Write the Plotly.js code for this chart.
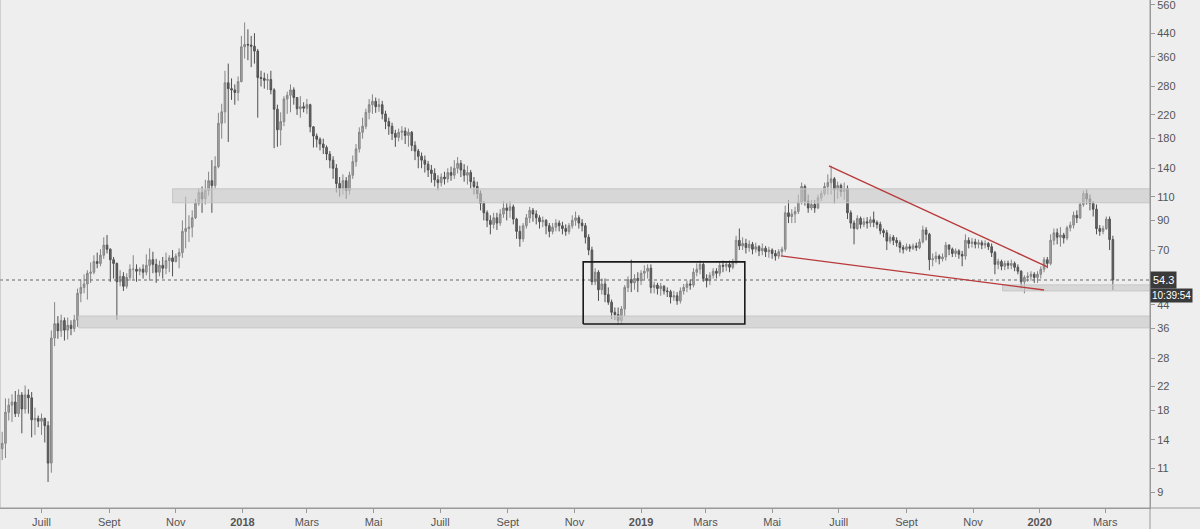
<!DOCTYPE html>
<html>
<head>
<meta charset="utf-8">
<script src="https://cdn.plot.ly/plotly-3.0.1.min.js"></script>
<style>
  html, body { margin: 0; padding: 0; background: #eeeeee; }
  #chart { width: 1200px; height: 529px; }
</style>
</head>
<body>
<div id="chart"></div>
<script>
// ---- Data (3-day candles) ----
const startDate = '2017-05-26';
const periodDays = 3;

const opens = [
  13.0,13.6,17.7,18.8,19.3,17.5,20.5,18.2,20.5,20.0,16.6,16.8,16.4,16.8,15.8,11.5,33.2,37.5,35.3,38.5,
  35.5,37.0,36.0,38.7,48.5,51.0,52.5,57.5,58,63.5,62.5,67,73,70.5,64.5,62.5,53.5,56,51.5,55.5,
  59.5,59.5,58.5,59.5,58,61.5,64.5,62,58,61.5,60,64,65.5,63.5,66.5,68.5,82,84,85,92,
  104,114,108,116,126,121,142,205,226,289,275,272,266,292,392,400,398,394,378,302,
  300,295,297,272,231,194,208,252,260,272,255,232,236,233,240,199,184,179,172,167,
  158,150,140,123,118,126,116,132,148,165,190,200,225,240,247,236,240,222,208,200,
  188,182,190,192,185,190,170,162,155,150,145,138,134,127,124,130,128,135,132,140,
  146,138,132,135,125,120,113,104,96,90,87,92,88,95,100,98,101,91,82,77,
  86,92,98,95,92,89,90,86,82,85,88,86,84,82,86,90,92,88,86,78,
  70,53.5,58,50,52.5,48,45,41.3,40.5,38.5,42.5,51,54.5,53,55,54,57.5,58.5,60,51,
  52,50.5,51.5,49.5,49.2,47,47.5,45.5,49.5,51,52.5,52,58,59.5,62,55,54,56.5,58.5,57.5,
  61.5,61,62,60.5,63,76,72.5,74,71.5,73.5,70.5,72,69.5,71,69,70,68,66.5,69,70.5,
  96,93,95,97,105,120,106,100,103,100,109,113,120,124,128,117,121,115,118,96,
  88,84,91.5,87,89,88,90.5,88.5,87,82.5,81,75.5,78,76,74.5,71.5,70.5,72,71,72.5,
  71.5,75,83,80,64.5,65,66.5,65,66,73,70.5,68,69.5,67.5,66.5,76,74,75,73.5,74.5,
  73,74,72,68.5,62,63.5,61,62.5,61.5,62.5,60.5,58.5,53.5,55.5,56,57,55.5,57,59.5,64.5,
  62.5,76,81,78,79.5,77.5,84.5,86.5,94,92,103,113,108,104,99,84,82,84,91,76.5
];
const highs = [
  15.0,19.9,19.9,20.6,21.2,21.5,21.0,22.2,21.5,21.0,18.4,17.2,17.5,16.9,16.4,35.4,45,40,40.5,39.5,
  39.5,38.6,40.4,50.5,54.5,57,59,63,67,68.5,70.5,78,79.5,71,66,63,59,58,57.5,62,
  67,62,60.5,62,67.5,71,69,65,64,66,68.5,67,70,68,71,90,110,94,98,108,
  118,120,127,136,150,155,224,242,320,340,300,285,305,430,482,455,430,440,385,320,
  315,312,320,276,240,225,258,268,285,278,256,258,245,252,242,200,188,182,180,170,
  162,155,145,130,133,130,136,156,172,198,215,232,252,262,255,253,248,228,215,206,
  194,196,200,198,196,192,176,165,160,156,149,144,140,132,134,136,140,142,150,154,
  150,145,143,138,130,125,116,106,98,94,96,96,99,106,104,106,103,92,86,88,
  95,101,100,98,94,93,91,88,88,91,90,89,87,88,94,97,94,91,88,80,
  72,60,59,55,55,51,46,43,43,43.5,52,56,64.5,57,58,59,61.5,62,62,53.5,
  53,53,52,51,50,49.5,49,51,52.5,54,54.5,60,62.5,64,63,57,58,60,60,63,
  64,63.5,64,65,79,84,78,77,76,75,74.5,73,74,72.5,72,71,70,70.5,72,102,
  107,99,101,112,124,122,112,107,107,112,116,124,133,143,130,125,123,124,121,98,
  90,94,93,92,92.5,93,97,90,89,84,83,80,79.5,78,76,73,74,73.5,74,74.5,
  77,86,85,81,68,69,67.5,68,75,73.5,71.5,71,70.5,69.5,80,78,77.5,77,76.5,76,
  76,75,74,69.5,65,64.5,64,64,64.5,63.5,62,59,56.5,58,58.5,58,58.5,61,66,66,
  80,84,84,85,81,86,89,97,98,105,116,117,112,106,103,86.5,86,93,93,79
];
const lows = [
  11.8,12.0,16.5,16.3,17.0,17.0,14.8,17.5,17.5,14.3,14.6,15.6,14.6,13.7,9.8,10.6,31,33,33.5,32.5,
  32.8,34.0,35.0,36.5,45,48.5,46,53,57,60,61,65,68,53.5,55,38.8,51.5,49.5,50.5,54,
  54.5,53.5,56.5,55,56.5,54,57.5,53,56,55,57,58,56,63,60,65.5,71,75,78,91,
  102,96,103,111,96,118,140,180,205,175,250,240,248,290,355,350,330,340,215,280,
  275,272,262,166,168,170,200,222,225,240,220,215,225,222,190,167,167,163,158,150,
  140,128,114,110,112,108,112,128,142,160,180,195,212,222,224,226,212,195,186,178,
  168,176,178,172,168,162,150,140,140,135,130,124,120,116,120,122,124,126,128,134,
  130,125,122,118,112,108,98,90,85,80,84,83,86,92,90,92,87,77,72,75,
  84,88,89,87,84,85,80,78,80,82,82,80,79,80,84,86,84,82,74,67,
  52,52,45.5,48,45,44,39,38.7,37.1,37.2,40,49,49,50,49,52,54.5,55,48.5,48.5,
  48,47.5,48,47,44.5,45.5,44,44.5,48,49,50,51,56,57,53.5,51,52,55,55,56,
  58,58.5,58,59.5,62,70,70,68,69,67.5,68.5,66.5,67,66,65.5,65,64,65,66.5,69,
  88,88,88,95,103,102,96,98,96,99,106,111,112,112,104,108,110,107,91,84,
  73.5,83,84,85,84,85,85,84,80,78,70,74,73,72,68.5,68,69.5,69,70,69.5,
  70.5,74,76,59,61,63,62,63.5,64,67,66,66,65,61,64.5,71,71.5,71,71,70.5,
  71,70,66,57,59.5,59,59,59.5,59.5,58.5,57,50.5,48.5,53.5,54,53,53,55,58,60,
  61.5,73,73.5,72,74,76,82,84,88,91,101,103,98,93,80,79,80,83,70,49.9
];
const closes = [
  13.6,17.7,18.8,19.3,17.5,20.5,18.2,20.5,20.0,16.6,16.8,16.4,16.8,15.8,11.5,33.2,37.5,35.3,38.5,35.5,
  37.0,36.0,38.7,48.5,51.0,52.5,57.5,58,63.5,62.5,67,73,70.5,64.5,62.5,53.5,56,51.5,55.5,59.5,
  59.5,58.5,59.5,58,61.5,64.5,62,58,61.5,60,64,65.5,63.5,66.5,68.5,82,84,85,92,104,
  114,108,116,126,121,142,205,226,289,275,272,266,292,392,400,398,394,378,302,300,
  295,297,272,231,194,208,252,260,272,255,232,236,233,240,199,184,179,172,167,158,
  150,140,123,118,126,116,132,148,165,190,200,225,240,247,236,240,222,208,200,188,
  182,190,192,185,190,170,162,155,150,145,138,134,127,124,130,128,135,132,140,146,
  138,132,135,125,120,113,104,96,90,87,92,88,95,100,98,101,91,82,77,86,
  92,98,95,92,89,90,86,82,85,88,86,84,82,86,90,92,88,86,78,70,
  53.5,58,50,52.5,48,45,41.3,40.5,38.5,42.5,51,54.5,53,55,54,57.5,58.5,60,51,52,
  50.5,51.5,49.5,49.2,47,47.5,45.5,49.5,51,52.5,52,58,59.5,62,55,54,56.5,58.5,57.5,61.5,
  61,62,60.5,63,76,72.5,74,71.5,73.5,70.5,72,69.5,71,69,70,68,66.5,69,70.5,96,
  93,95,97,105,120,106,100,103,100,109,113,120,124,128,117,121,115,118,96,88,
  84,91.5,87,89,88,90.5,88.5,87,82.5,81,75.5,78,76,74.5,71.5,70.5,72,71,72.5,71.5,
  75,83,80,64.5,65,66.5,65,66,73,70.5,68,69.5,67.5,66.5,76,74,75,73.5,74.5,73,
  74,72,68.5,62,63.5,61,62.5,61.5,62.5,60.5,58.5,53.5,55.5,56,57,55.5,57,59.5,64.5,62.5,
  76,81,78,79.5,77.5,84.5,86.5,94,92,103,113,108,104,99,84,82,84,91,76.5,54.3
];

// Horizontal zones (price ranges) and their start dates
const zoneUpper = { start: '2017-10-29', lo: 104.5, hi: 117.6 };
const zoneLower = { start: '2017-08-04', lo: 36.2, hi: 40.0 };
const zoneSmall = { start: '2019-11-28', lo: 49.5, hi: 52.1 };
const boxDates = ['2018-11-09', '2019-04-06'];
const boxPrices = [37.4, 63.3];
const wedgeUpper = { x: ['2019-06-22', '2020-01-08'], y: [142.9, 60.7] };
const wedgeLower = { x: ['2019-05-09', '2020-01-05'], y: [66.6, 49.9] };

const xRange = ['2017-05-24', '2020-04-11'];
const xTickVals = ['2017-07-01','2017-09-01','2017-11-01','2018-01-01','2018-03-01','2018-05-01',
  '2018-07-01','2018-09-01','2018-11-01','2019-01-01','2019-03-01','2019-05-01','2019-07-01',
  '2019-09-01','2019-11-01','2020-01-01','2020-03-01'];
const xTickText = ['Juill','Sept','Nov','<b>2018</b>','Mars','Mai','Juill','Sept','Nov','<b>2019</b>',
  'Mars','Mai','Juill','Sept','Nov','<b>2020</b>','Mars'];
const yTickVals = [9,11,14,18,22,28,36,44,70,90,110,140,180,220,280,360,440,560];
const yRange = [7.86, 583];
const timerLabel = '10:39:54';

// ---- Build ----
const t0 = Date.parse(startDate + 'T00:00:00Z');
const dates = closes.map((_, i) => new Date(t0 + i * periodDays * 86400000).toISOString().slice(0, 10));
const lastClose = closes[closes.length - 1];
const endX = '2020-04-20';

function zoneTrace(z) {
  return {
    type: 'scatter', mode: 'lines', hoverinfo: 'skip', showlegend: false,
    x: [z.start, endX, endX, z.start, z.start],
    y: [z.lo, z.lo, z.hi, z.hi, z.lo],
    fill: 'toself', fillcolor: 'rgba(200,200,200,0.6)',
    line: { color: '#c6c6c6', width: 1 }
  };
}

const traces = [
  zoneTrace(zoneUpper), zoneTrace(zoneLower), zoneTrace(zoneSmall),
  {
    type: 'scatter', mode: 'lines', hoverinfo: 'skip', showlegend: false,
    x: [xRange[0], endX], y: [lastClose, lastClose],
    line: { color: '#666666', width: 1, dash: 'dot' }
  },
  {
    type: 'candlestick', x: dates, open: opens, high: highs, low: lows, close: closes,
    showlegend: false, hoverinfo: 'skip',
    increasing: { line: { color: '#858585', width: 1 }, fillcolor: '#a8a8a8' },
    decreasing: { line: { color: '#505050', width: 1 }, fillcolor: '#666666' }
  },
  {
    type: 'scatter', mode: 'lines', hoverinfo: 'skip', showlegend: false,
    x: [boxDates[0], boxDates[1], boxDates[1], boxDates[0], boxDates[0]],
    y: [boxPrices[0], boxPrices[0], boxPrices[1], boxPrices[1], boxPrices[0]],
    line: { color: '#1a1a1a', width: 1.6 }
  },
  {
    type: 'scatter', mode: 'lines', hoverinfo: 'skip', showlegend: false,
    x: wedgeUpper.x, y: wedgeUpper.y, line: { color: '#b83a3a', width: 1.4 }
  },
  {
    type: 'scatter', mode: 'lines', hoverinfo: 'skip', showlegend: false,
    x: wedgeLower.x, y: wedgeLower.y, line: { color: '#b83a3a', width: 1.4 }
  }
];

const plotH = 508;
const layout = {
  width: 1200, height: 529,
  margin: { l: 0, r: 50, t: 0, b: 21, pad: 0 },
  paper_bgcolor: '#eeeeee', plot_bgcolor: '#eeeeee',
  font: { family: 'Liberation Sans, Arial, sans-serif', size: 11, color: '#555555' },
  showlegend: false,
  dragmode: false,
  xaxis: {
    type: 'date', range: xRange, rangeslider: { visible: false },
    tickmode: 'array', tickvals: xTickVals, ticktext: xTickText,
    ticks: 'outside', ticklen: 4, tickcolor: '#9a9a9a', tickwidth: 1,
    showgrid: false, zeroline: false, showline: true, linecolor: '#9a9a9a', linewidth: 1,
    tickfont: { size: 11, color: '#555555' }, fixedrange: true
  },
  yaxis: {
    type: 'log', side: 'right',
    range: [Math.log10(yRange[0]), Math.log10(yRange[1])],
    tickmode: 'array', tickvals: yTickVals, ticktext: yTickVals.map(String),
    ticks: 'outside', ticklen: 4, tickcolor: '#9a9a9a', tickwidth: 1,
    ticklabeloverflow: 'allow',
    showgrid: false, zeroline: false, showline: true, linecolor: '#9a9a9a', linewidth: 1,
    tickfont: { size: 11, color: '#555555' }, fixedrange: true
  },
  shapes: [
    { type: 'line', xref: 'paper', yref: 'paper', x0: 0, x1: 1.05, y0: 0, y1: 0,
      line: { color: '#9a9a9a', width: 1 } },
    { type: 'line', xref: 'paper', yref: 'paper', x0: 1, x1: 1, y0: -0.05, y1: 1,
      line: { color: '#9a9a9a', width: 1 } },
    { type: 'line', xref: 'paper', yref: 'paper', x0: 0, x1: 0, y0: 0, y1: 1,
      line: { color: '#b0b0b0', width: 1 } }
  ],
  annotations: [
    { xref: 'paper', yref: 'paper', x: 1, y: 1 - 280 / plotH, xanchor: 'left', yanchor: 'middle',
      text: lastClose.toFixed(1), showarrow: false, bgcolor: '#3a3a3a', borderpad: 2,
      font: { color: '#ffffff', size: 11 } },
    { xref: 'paper', yref: 'paper', x: 1, y: 1 - 295.5 / plotH, xanchor: 'left', yanchor: 'middle',
      text: timerLabel, showarrow: false, bgcolor: '#3a3a3a', borderpad: 1,
      font: { color: '#ffffff', size: 10 } }
  ]
};

Plotly.newPlot('chart', traces, layout, { displayModeBar: false, staticPlot: true });
</script>
</body>
</html>
